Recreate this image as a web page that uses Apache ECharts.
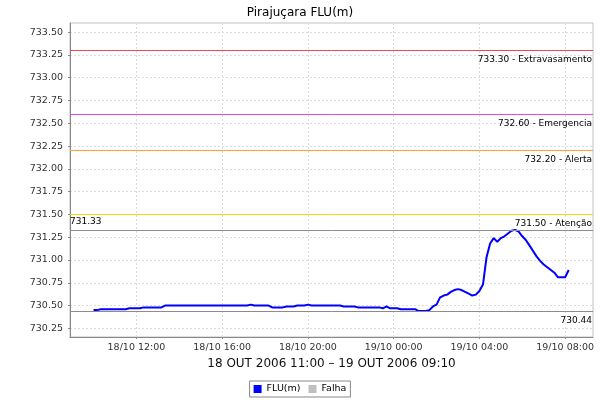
<!DOCTYPE html>
<html><head><meta charset="utf-8">
<script src="https://cdn.jsdelivr.net/npm/echarts@6/dist/echarts.min.js"></script>
<style>html,body{margin:0;padding:0;background:#fff}#c{width:600px;height:400px}</style>
</head><body><div id="c"></div>
<script>
const chartTitle = "Pirajuçara FLU(m)";
const xAxisName = "18 OUT 2006 11:00 \u2013 19 OUT 2006 09:10";
const seriesNames = ["FLU(m)", "Falha"];

const times = [
  "2006-10-18 10:00","2006-10-18 10:10","2006-10-18 10:20","2006-10-18 11:30","2006-10-18 11:40",
  "2006-10-18 12:10","2006-10-18 12:20","2006-10-18 13:10","2006-10-18 13:20","2006-10-18 17:10",
  "2006-10-18 17:20","2006-10-18 17:30","2006-10-18 18:10","2006-10-18 18:20","2006-10-18 18:50",
  "2006-10-18 19:00","2006-10-18 19:20","2006-10-18 19:30","2006-10-18 19:50","2006-10-18 20:00",
  "2006-10-18 20:10","2006-10-18 21:30","2006-10-18 21:40","2006-10-18 22:10","2006-10-18 22:20",
  "2006-10-18 23:20","2006-10-18 23:30","2006-10-18 23:40","2006-10-18 23:50","2006-10-19 00:10",
  "2006-10-19 00:20","2006-10-19 01:00","2006-10-19 01:10","2006-10-19 01:30","2006-10-19 01:40",
  "2006-10-19 01:50","2006-10-19 02:00","2006-10-19 02:10","2006-10-19 02:20","2006-10-19 02:30",
  "2006-10-19 02:40","2006-10-19 02:50","2006-10-19 03:00","2006-10-19 03:10","2006-10-19 03:20",
  "2006-10-19 03:30","2006-10-19 03:40","2006-10-19 03:50","2006-10-19 04:00","2006-10-19 04:10",
  "2006-10-19 04:20","2006-10-19 04:30","2006-10-19 04:40","2006-10-19 04:50","2006-10-19 05:00",
  "2006-10-19 05:10","2006-10-19 05:20","2006-10-19 05:30","2006-10-19 05:40","2006-10-19 05:50",
  "2006-10-19 06:00","2006-10-19 06:10","2006-10-19 06:20","2006-10-19 06:30","2006-10-19 06:40",
  "2006-10-19 06:50","2006-10-19 07:00","2006-10-19 07:10","2006-10-19 07:20","2006-10-19 07:30",
  "2006-10-19 07:40","2006-10-19 07:50","2006-10-19 08:00","2006-10-19 08:10"
];
const fluValues = [
  730.45,730.45,730.46,730.46,730.47,
  730.47,730.48,730.48,730.50,730.50,
  730.51,730.50,730.50,730.48,730.48,
  730.49,730.49,730.50,730.50,730.51,
  730.50,730.50,730.49,730.49,730.48,
  730.48,730.47,730.49,730.47,730.47,
  730.46,730.46,730.44,730.44,730.45,
  730.49,730.51,730.59,730.61,730.62,
  730.65,730.67,730.68,730.67,730.65,
  730.63,730.61,730.62,730.66,730.73,
  731.03,731.18,731.24,731.20,731.24,
  731.26,731.29,731.32,731.33,731.31,
  731.26,731.22,731.16,731.10,731.04,
  730.99,730.95,730.92,730.89,730.86,
  730.81,730.81,730.81,730.89
];

const yTickValues = [730.25,730.50,730.75,731.00,731.25,731.50,731.75,732.00,732.25,732.50,732.75,733.00,733.25,733.50];
const yRange = [730.155, 733.60];
const xTickTimes = ["2006-10-18 12:00","2006-10-18 16:00","2006-10-18 20:00","2006-10-19 00:00","2006-10-19 04:00","2006-10-19 08:00"];
const xRange = ["2006-10-18 08:54","2006-10-19 09:18"];

const markerValues = [733.30, 732.60, 732.20, 731.50, 731.33, 730.44];
const markerLabels = ["733.30 - Extravasamento","732.60 - Emergencia","732.20 - Alerta","731.50 - Atenção","731.33","730.44"];
// styles
const markerColors = ["#e84a4a","#e84ae8","#ffa030","#f2dc00","#8c8c8c","#8c8c8c"];
const markerLabelPos = ["insideEndBottom","insideEndBottom","insideEndBottom","insideEndBottom","insideStartTop","insideEndBottom"];
const markerLabelDist = [[1,5],[1,5],[1,5],[1,5],[0,4],[1,5]];

function parseT(s) {
  const m = s.match(/(\d+)-(\d+)-(\d+) (\d+):(\d+)/);
  return Date.UTC(+m[1], +m[2]-1, +m[3], +m[4], +m[5]);
}
function pad(n){return (n<10?"0":"")+n;}
function fmtT(v) {
  const d = new Date(v);
  return pad(d.getUTCDate()) + "/" + pad(d.getUTCMonth()+1) + " " + pad(d.getUTCHours()) + ":" + pad(d.getUTCMinutes());
}

const seriesData = times.map((t, i) => [parseT(t), fluValues[i]]);
const FONT = "DejaVu Sans";

const chart = echarts.init(document.getElementById('c'), null, {renderer: 'canvas'});
chart.setOption({
  animation: false,
  backgroundColor: '#ffffff',
  title: {
    text: chartTitle, left: 'center', top: 2,
    textStyle: {fontFamily: FONT, fontSize: 12, fontWeight: 'normal', color: '#000'}
  },
  legend: {
    bottom: 3, left: 'center',
    data: [{name: seriesNames[0], icon: 'rect'}, {name: seriesNames[1], icon: 'rect'}],
    itemWidth: 8, itemHeight: 8, itemGap: 8,
    padding: [3, 4], borderColor: '#888', borderWidth: 1,
    textStyle: {fontFamily: FONT, fontSize: 9.5, color: '#000'}
  },
  grid: {
    left: 70, right: 7, top: 23, bottom: 63,
    show: true, borderColor: '#c0c0c0', borderWidth: 1, backgroundColor: '#fff'
  },
  xAxis: {
    type: 'value',
    min: parseT(xRange[0]), max: parseT(xRange[1]),
    name: xAxisName, nameLocation: 'middle', nameGap: 21,
    nameTextStyle: {fontFamily: FONT, fontSize: 12, color: '#111'},
    axisLine: {show: true, lineStyle: {color: '#888', width: 1}},
    axisTick: {show: true, length: 2, lineStyle: {color: '#888'}, customValues: xTickTimes.map(parseT)},
    axisLabel: {
      customValues: xTickTimes.map(parseT),
      formatter: v => fmtT(v), margin: 6,
      fontFamily: FONT, fontSize: 9.5, color: '#333'
    },
    splitLine: {show: true, lineStyle: {color: '#dcdcdc', type: [2, 2], width: 1}}
  },
  yAxis: {
    type: 'value',
    min: yRange[0], max: yRange[1],
    axisLine: {show: true, lineStyle: {color: '#888', width: 1}},
    axisTick: {show: true, length: 2, lineStyle: {color: '#888'}, customValues: yTickValues},
    axisLabel: {
      customValues: yTickValues,
      formatter: v => v.toFixed(2), margin: 7,
      fontFamily: FONT, fontSize: 9.5, color: '#333'
    },
    splitLine: {show: true, lineStyle: {color: '#dcdcdc', type: [2, 2], width: 1}}
  },
  series: [
    {
      name: seriesNames[0], type: 'line', data: seriesData,
      showSymbol: false, symbol: 'none',
      color: '#0000ff',
      lineStyle: {color: '#0000ff', width: 2},
      z: 3,
      markLine: {
        silent: true, symbol: 'none', animation: false,
        data: markerValues.map((v, i) => ({
          yAxis: v,
          lineStyle: {color: markerColors[i], type: 'solid', width: 1},
          label: {
            show: true, position: markerLabelPos[i],
            formatter: markerLabels[i],
            fontFamily: FONT, fontSize: 9, color: '#000',
            distance: markerLabelDist[i]
          }
        }))
      }
    },
    {
      name: seriesNames[1], type: 'line', data: [],
      color: '#c0c0c0'
    }
  ]
});
</script>
</body></html>
